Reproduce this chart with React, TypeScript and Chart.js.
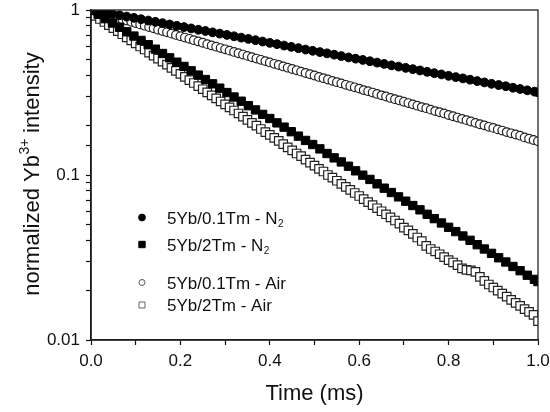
import React, { useEffect, useRef } from 'react';
import { Chart, registerables } from 'chart.js';
Chart.register(...registerables);

// time grid of the denser-sampled (filled) curves, ms
const tFilled = [0, 0.016, 0.032, 0.048, 0.064, 0.08, 0.096, 0.112, 0.128, 0.144, 0.16, 0.176, 0.192, 0.208, 0.224, 0.24, 0.256, 0.272, 0.288, 0.304, 0.32, 0.336, 0.352, 0.368, 0.384, 0.4, 0.416, 0.432, 0.448, 0.464, 0.48, 0.496, 0.512, 0.528, 0.544, 0.56, 0.576, 0.592, 0.608, 0.624, 0.64, 0.656, 0.672, 0.688, 0.704, 0.72, 0.736, 0.752, 0.768, 0.784, 0.8, 0.816, 0.832, 0.848, 0.864, 0.88, 0.896, 0.912, 0.928, 0.944, 0.96, 0.976, 0.992, 1.0];

// time grid of the open-marker curves, ms
const tOpen = [0, 0.01, 0.02, 0.03, 0.04, 0.05, 0.06, 0.07, 0.08, 0.09, 0.1, 0.11, 0.12, 0.13, 0.14, 0.15, 0.16, 0.17, 0.18, 0.19, 0.2, 0.21, 0.22, 0.23, 0.24, 0.25, 0.26, 0.27, 0.28, 0.29, 0.3, 0.31, 0.32, 0.33, 0.34, 0.35, 0.36, 0.37, 0.38, 0.39, 0.4, 0.41, 0.42, 0.43, 0.44, 0.45, 0.46, 0.47, 0.48, 0.49, 0.5, 0.51, 0.52, 0.53, 0.54, 0.55, 0.56, 0.57, 0.58, 0.59, 0.6, 0.61, 0.62, 0.63, 0.64, 0.65, 0.66, 0.67, 0.68, 0.69, 0.7, 0.71, 0.72, 0.73, 0.74, 0.75, 0.76, 0.77, 0.78, 0.79, 0.8, 0.81, 0.82, 0.83, 0.84, 0.85, 0.86, 0.87, 0.88, 0.89, 0.9, 0.91, 0.92, 0.93, 0.94, 0.95, 0.96, 0.97, 0.98, 0.99, 1.0];

// 5Yb/0.1Tm - N2 (filled circles)
const yb01N2 = [1.000, 0.982, 0.964, 0.946, 0.929, 0.912, 0.896, 0.879, 0.863, 0.848, 0.832, 0.817, 0.802, 0.788, 0.773, 0.759, 0.746, 0.732, 0.719, 0.706, 0.693, 0.680, 0.668, 0.656, 0.644, 0.632, 0.621, 0.609, 0.598, 0.587, 0.576, 0.566, 0.556, 0.546, 0.536, 0.526, 0.516, 0.507, 0.498, 0.489, 0.480, 0.471, 0.462, 0.454, 0.446, 0.438, 0.430, 0.422, 0.414, 0.407, 0.399, 0.392, 0.385, 0.378, 0.371, 0.364, 0.357, 0.351, 0.345, 0.338, 0.332, 0.326, 0.320, 0.317];

// 5Yb/2Tm - N2 (filled squares)
const yb2N2 = [1.000, 0.941, 0.886, 0.834, 0.785, 0.738, 0.695, 0.654, 0.616, 0.579, 0.545, 0.513, 0.483, 0.455, 0.428, 0.403, 0.379, 0.357, 0.336, 0.316, 0.297, 0.280, 0.263, 0.248, 0.233, 0.220, 0.207, 0.195, 0.183, 0.172, 0.162, 0.153, 0.144, 0.135, 0.127, 0.120, 0.113, 0.106, 0.0998, 0.0940, 0.0884, 0.0832, 0.0783, 0.0737, 0.0694, 0.0653, 0.0615, 0.0578, 0.0544, 0.0512, 0.0482, 0.0454, 0.0427, 0.0402, 0.0378, 0.0356, 0.0335, 0.0315, 0.0297, 0.0279, 0.0263, 0.0247, 0.0233, 0.0226];

// 5Yb/0.1Tm - Air (open circles)
const yb01Air = [1.000, 0.982, 0.964, 0.947, 0.929, 0.913, 0.896, 0.880, 0.864, 0.848, 0.833, 0.818, 0.803, 0.788, 0.774, 0.760, 0.746, 0.733, 0.719, 0.706, 0.694, 0.681, 0.669, 0.656, 0.645, 0.633, 0.621, 0.610, 0.599, 0.588, 0.578, 0.567, 0.557, 0.547, 0.537, 0.527, 0.517, 0.508, 0.499, 0.490, 0.481, 0.472, 0.464, 0.455, 0.447, 0.439, 0.431, 0.423, 0.415, 0.408, 0.401, 0.393, 0.386, 0.379, 0.372, 0.365, 0.359, 0.352, 0.346, 0.340, 0.334, 0.327, 0.322, 0.316, 0.310, 0.304, 0.299, 0.293, 0.288, 0.283, 0.278, 0.273, 0.268, 0.263, 0.258, 0.254, 0.249, 0.244, 0.240, 0.236, 0.231, 0.227, 0.223, 0.219, 0.215, 0.211, 0.207, 0.203, 0.200, 0.196, 0.193, 0.189, 0.186, 0.182, 0.179, 0.176, 0.173, 0.169, 0.166, 0.163, 0.160];

// 5Yb/2Tm - Air (open squares)
const yb2Air = [1.000, 0.921, 0.882, 0.846, 0.810, 0.777, 0.744, 0.713, 0.683, 0.655, 0.628, 0.601, 0.576, 0.552, 0.529, 0.507, 0.486, 0.466, 0.446, 0.428, 0.410, 0.393, 0.376, 0.361, 0.346, 0.331, 0.317, 0.304, 0.291, 0.279, 0.268, 0.257, 0.246, 0.236, 0.226, 0.216, 0.207, 0.199, 0.190, 0.182, 0.175, 0.168, 0.161, 0.154, 0.147, 0.141, 0.135, 0.130, 0.124, 0.119, 0.114, 0.109, 0.105, 0.100, 0.0963, 0.0923, 0.0884, 0.0848, 0.0812, 0.0778, 0.0746, 0.0715, 0.0685, 0.0656, 0.0629, 0.0603, 0.0578, 0.0554, 0.0530, 0.0508, 0.0480, 0.0462, 0.0440, 0.0418, 0.0398, 0.0372, 0.0356, 0.0344, 0.0331, 0.0318, 0.0305, 0.0295, 0.0284, 0.0272, 0.0266, 0.0264, 0.0259, 0.0241, 0.0228, 0.0217, 0.0208, 0.0199, 0.0191, 0.0183, 0.0175, 0.0168, 0.0161, 0.0154, 0.0148, 0.0142, 0.0130];

const xTickLabels = ['0.0', '0.2', '0.4', '0.6', '0.8', '1.0'];
const yTickLabels = ['0.01', '0.1', '1'];
const legendMain = ['5Yb/0.1Tm - N', '5Yb/2Tm - N', '5Yb/0.1Tm - Air', '5Yb/2Tm - Air'];
const legendSub = ['2', '2', '', ''];
const xTitle = 'Time (ms)';
const yTitleParts = ['normalized Yb', '3+', ' intensity'];

const FONT = '"Liberation Sans", Arial, sans-serif';
const TEXT = '#111';

const pts = (xs: number[], ys: number[]) => xs.map((x, i) => ({ x, y: ys[i] }));

const legendStyles = [
  { shape: 'circle', fill: '#000', stroke: '#000', size: 3.4 },
  { shape: 'rect', fill: '#000', stroke: '#000', size: 3.2 },
  { shape: 'circle', fill: '#fff', stroke: '#555', size: 3.0 },
  { shape: 'rect', fill: '#fff', stroke: '#666', size: 3.0 },
];
const legendRowY = [217.5, 244.5, 282.5, 305];

const decor = {
  id: 'decor',
  afterDraw(chart: any) {
    const ctx = chart.ctx;
    const a = chart.chartArea;
    ctx.save();
    // frame
    ctx.strokeStyle = '#222';
    ctx.lineWidth = 1.3;
    ctx.strokeRect(a.left, a.top, a.right - a.left, a.bottom - a.top);

    // legend
    const mx = 142;
    const tx = 167;
    legendMain.forEach((txt, i) => {
      const st = legendStyles[i];
      const y = legendRowY[i];
      ctx.beginPath();
      if (st.shape === 'circle') ctx.arc(mx, y, st.size, 0, Math.PI * 2);
      else ctx.rect(mx - st.size, y - st.size, st.size * 2, st.size * 2);
      ctx.fillStyle = st.fill;
      ctx.fill();
      ctx.lineWidth = 1;
      ctx.strokeStyle = st.stroke;
      ctx.stroke();
      ctx.fillStyle = TEXT;
      ctx.textAlign = 'left';
      ctx.textBaseline = 'alphabetic';
      ctx.font = `17px ${FONT}`;
      const base = y + 6.2;
      ctx.fillText(txt, tx, base);
      if (legendSub[i]) {
        const w = ctx.measureText(txt).width;
        ctx.font = `10px ${FONT}`;
        ctx.fillText(legendSub[i], tx + w + 0.5, base + 3);
      }
    });

    // x title
    ctx.font = `22px ${FONT}`;
    ctx.textAlign = 'center';
    ctx.textBaseline = 'alphabetic';
    ctx.fillStyle = TEXT;
    ctx.fillText(xTitle, (a.left + a.right) / 2, 400);

    // y title (rotated, with superscript)
    ctx.translate(39, 174);
    ctx.rotate(-Math.PI / 2);
    ctx.textAlign = 'left';
    ctx.font = `22px ${FONT}`;
    const w1 = ctx.measureText(yTitleParts[0]).width;
    const w3 = ctx.measureText(yTitleParts[2]).width;
    ctx.font = `14px ${FONT}`;
    const w2 = ctx.measureText(yTitleParts[1]).width;
    let x0 = -(w1 + w2 + w3) / 2;
    ctx.font = `22px ${FONT}`;
    ctx.fillText(yTitleParts[0], x0, 0);
    x0 += w1;
    ctx.font = `14px ${FONT}`;
    ctx.fillText(yTitleParts[1], x0 + 0.5, -10);
    x0 += w2;
    ctx.font = `22px ${FONT}`;
    ctx.fillText(yTitleParts[2], x0, 0);
    ctx.restore();
  },
};

export default function App() {
  const ref = useRef<HTMLCanvasElement | null>(null);
  useEffect(() => {
    if (!ref.current) return;
    const chart = new Chart(ref.current, {
      type: 'scatter',
      data: {
        datasets: [
          {
            label: legendMain[0] + legendSub[0],
            data: pts(tFilled, yb01N2),
            pointStyle: 'circle',
            pointRadius: 4.4,
            pointBackgroundColor: '#000',
            pointBorderColor: '#000',
            pointBorderWidth: 1,
            showLine: false,
            clip: 0,
          },
          {
            label: legendMain[1] + legendSub[1],
            data: pts(tFilled, yb2N2),
            pointStyle: 'rect',
            pointRadius: 5.9,
            pointBackgroundColor: '#000',
            pointBorderColor: '#000',
            pointBorderWidth: 1,
            showLine: false,
            clip: 0,
          },
          {
            label: legendMain[2],
            data: pts(tOpen, yb01Air),
            pointStyle: 'circle',
            pointRadius: 4.3,
            pointBackgroundColor: '#fff',
            pointBorderColor: '#222',
            pointBorderWidth: 1.2,
            showLine: false,
            clip: 0,
          },
          {
            label: legendMain[3],
            data: pts(tOpen, yb2Air),
            pointStyle: 'rect',
            pointRadius: 6,
            pointBackgroundColor: '#fff',
            pointBorderColor: '#222',
            pointBorderWidth: 1.2,
            showLine: false,
            clip: 0,
          },
        ],
      },
      options: {
        responsive: false,
        animation: false,
        events: [],
        layout: { padding: { top: 10, right: 12, left: 0, bottom: 0 } },
        plugins: { legend: { display: false }, tooltip: { enabled: false } },
        scales: {
          x: {
            type: 'linear',
            min: 0,
            max: 1,
            afterFit: (s: any) => { s.height = 72; s.paddingLeft = 0; s.paddingRight = 0; },
            border: { display: true, color: '#111', width: 1.6 },
            grid: { display: true, drawOnChartArea: false, drawTicks: true, tickLength: 5, color: '#111', tickWidth: 1.2 },
            ticks: {
              stepSize: 0.1,
              autoSkip: false,
              maxRotation: 0,
              padding: 6,
              color: TEXT,
              font: { family: FONT, size: 17 },
              callback: (v: any) => {
                const k = Math.round(Number(v) * 10);
                return k % 2 === 0 ? xTickLabels[k / 2] : '';
              },
            },
          },
          y: {
            type: 'logarithmic',
            min: 0.01,
            max: 1,
            afterFit: (s: any) => { s.width = 91; s.paddingTop = 0; s.paddingBottom = 0; },
            border: { display: true, color: '#111', width: 1.6 },
            grid: { display: true, drawOnChartArea: false, drawTicks: true, tickLength: 5, color: '#111', tickWidth: 1.2 },
            ticks: {
              autoSkip: false,
              padding: 6,
              color: TEXT,
              font: { family: FONT, size: 17 },
              callback: (v: any) => {
                const l = Math.log10(Number(v));
                const r = Math.round(l);
                if (Math.abs(l - r) > 1e-6) return '';
                return yTickLabels[r + 2];
              },
            },
          },
        },
      },
      plugins: [decor],
    } as any);
    return () => chart.destroy();
  }, []);
  return (
    <div style={{ position: 'fixed', left: 0, top: 0, width: 550, height: 412, background: '#fff' }}>
      <canvas ref={ref} width={550} height={412} style={{ display: 'block' }} />
    </div>
  );
}
